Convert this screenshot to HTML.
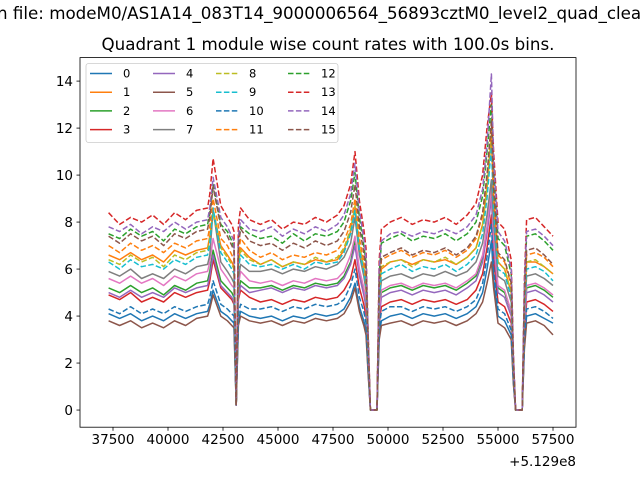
<!DOCTYPE html>
<html><head><meta charset="utf-8"><style>
body{margin:0;background:#fff;width:640px;height:480px;overflow:hidden}
svg{font-family:"DejaVu Sans","Liberation Sans",sans-serif}
</style></head><body>
<svg id="chart" width="640" height="480" viewBox="0 0 640 480">
<text x="-3" y="19" font-size="16.7">n file: modeM0/AS1A14_083T14_9000006564_56893cztM0_level2_quad_clean</text>
<text x="328" y="50" font-size="16.7" text-anchor="middle">Quadrant 1 module wise count rates with 100.0s bins.</text>
<g id="plot"></g>
</svg>
<script>
const times=[37300,37800,38300,38800,39300,39800,40300,40800,41300,41800,41900,42050,42400,42700,42900,43000,43100,43200,43300,43700,44200,44700,45200,45700,46200,46700,47200,47700,48000,48300,48500,48700,48900,49000,49100,49200,49500,49600,49700,50100,50600,51100,51600,52100,52600,53100,53600,54000,54300,54500,54700,54800,55000,55300,55600,55700,55800,56100,56200,56300,56700,57100,57500];
const s0=[4.1,3.9,4.1,3.8,4.0,3.8,4.1,3.9,4.1,4.2,4.5,5.1,4.2,4.0,3.8,3.7,0.2,3.8,4.2,4.0,3.9,4.0,3.8,4.0,3.9,4.1,4.0,4.1,4.3,4.8,5.4,4.4,3.8,3.4,1.6,0,0,3.2,3.8,4.0,4.1,3.9,4.1,4.0,4.1,3.9,4.1,4.4,5.0,6.0,7.2,5.6,4.0,3.8,3.2,1.2,0,0,2.8,4.0,4.1,3.9,3.7];
const s1=[6.6,6.4,6.7,6.4,6.6,6.3,6.8,6.6,6.8,6.9,7.4,8.5,7.0,6.6,6.3,6.1,0.2,6.3,6.9,6.5,6.2,6.4,6.1,6.3,6.2,6.4,6.3,6.4,6.8,7.6,8.6,6.9,6.0,5.4,2.5,0,0,5.0,6.0,6.3,6.4,6.2,6.4,6.3,6.4,6.2,6.5,6.9,7.9,9.4,11.6,8.8,6.3,6.0,5.0,1.9,0,0,4.4,6.3,6.3,6.1,5.8];
const s2=[5.2,5.0,5.3,5.0,5.2,4.9,5.3,5.1,5.4,5.5,5.9,6.8,5.5,5.2,5.0,4.8,0.2,5.0,5.5,5.2,5.2,5.3,5.1,5.3,5.2,5.4,5.3,5.4,5.7,6.3,7.2,5.8,5.0,4.5,2.1,0,0,4.2,5.0,5.2,5.3,5.1,5.3,5.2,5.3,5.1,5.4,5.7,6.5,7.7,9.3,7.2,5.2,5.0,4.2,1.6,0,0,3.6,5.2,5.3,5.1,4.8];
const s3=[4.9,4.7,5.0,4.6,4.8,4.6,5.0,4.8,5.0,5.1,5.5,6.4,5.2,4.9,4.7,4.5,0.2,4.7,5.1,4.8,4.6,4.7,4.5,4.7,4.6,4.8,4.7,4.8,5.1,5.6,6.4,5.2,4.5,4.0,1.9,0,0,3.7,4.4,4.6,4.7,4.5,4.7,4.6,4.7,4.5,4.7,5.1,5.8,6.9,8.3,6.4,4.6,4.4,3.7,1.4,0,0,3.2,4.6,4.7,4.5,4.2];
const s4=[5.0,4.8,5.1,4.8,5.0,4.8,5.2,5.0,5.2,5.3,5.7,6.6,5.3,5.0,4.8,4.6,0.2,4.8,5.3,5.0,5.1,5.2,5.0,5.2,5.1,5.3,5.2,5.3,5.6,6.2,7.0,5.7,4.9,4.4,2.1,0,0,4.0,4.8,5.0,5.1,4.9,5.1,5.0,5.1,4.9,5.2,5.5,6.3,7.5,9.0,7.0,5.0,4.8,4.0,1.5,0,0,3.5,5.0,5.1,4.9,4.6];
const s5=[3.8,3.6,3.8,3.5,3.7,3.5,3.8,3.6,3.9,4.0,4.3,4.9,4.0,3.8,3.6,3.5,0.2,3.6,4.0,3.8,3.7,3.8,3.6,3.8,3.7,3.9,3.8,3.9,4.1,4.6,5.2,4.2,3.6,3.2,1.5,0,0,3.0,3.6,3.7,3.8,3.6,3.8,3.7,3.8,3.6,3.8,4.1,4.6,5.4,6.3,5.2,3.7,3.5,3.0,1.1,0,0,2.6,3.7,3.8,3.6,3.2];
const s6=[5.6,5.4,5.7,5.4,5.6,5.3,5.7,5.5,5.8,5.9,6.3,7.3,6.0,5.6,5.3,5.2,0.2,5.3,5.9,5.5,5.4,5.5,5.3,5.5,5.4,5.6,5.5,5.6,5.9,6.6,7.4,6.0,5.2,4.7,2.2,0,0,4.3,5.1,5.3,5.4,5.2,5.4,5.3,5.4,5.2,5.5,5.8,6.6,7.8,9.5,7.4,5.3,5.1,4.2,1.6,0,0,3.7,5.3,5.4,5.2,4.9];
const s7=[5.9,5.7,6.0,5.6,5.8,5.6,6.0,5.8,6.1,6.2,6.6,8.5,6.3,5.9,5.6,5.4,0.2,5.6,6.2,5.9,5.9,6.0,5.8,6.0,5.9,6.1,6.0,6.2,6.5,7.1,8.2,6.6,5.7,5.1,2.4,0,0,4.6,5.5,5.7,5.8,5.6,5.8,5.7,5.9,5.7,5.9,6.3,7.1,8.3,9.8,8.0,5.7,5.5,4.6,1.7,0,0,4.0,5.7,5.8,5.6,5.3];
const s8=[6.4,6.2,6.6,6.3,6.5,6.1,6.6,6.4,6.7,6.8,7.3,8.4,6.9,6.5,6.2,6.0,0.2,6.2,6.8,6.4,6.2,6.4,6.1,6.3,6.2,6.5,6.3,6.5,6.9,7.7,8.7,7.0,6.1,5.4,2.6,0,0,5.0,6.1,6.3,6.4,6.1,6.4,6.3,6.5,6.2,6.5,6.9,7.9,9.5,11.8,8.9,6.3,6.0,5.0,1.9,0,0,4.4,6.3,6.4,6.1,5.8];
const s9=[6.3,6.0,6.4,6.1,6.2,6.0,6.4,6.2,6.5,6.6,7.1,8.6,6.7,6.3,6.0,5.8,0.2,6.0,6.6,6.2,6.1,6.2,6.0,6.2,6.0,6.3,6.2,6.3,6.7,7.5,8.5,6.8,5.9,5.3,2.5,0,0,4.8,5.8,6.0,6.2,5.9,6.1,6.0,6.2,5.9,6.2,6.6,7.5,9.0,11.2,8.5,6.0,5.8,4.8,1.8,0,0,4.2,6.0,6.1,5.9,5.5];
const s10=[4.3,4.1,4.4,4.1,4.3,4.1,4.4,4.2,4.4,4.5,4.8,5.5,4.5,4.3,4.1,4.0,0.2,4.1,4.5,4.3,4.3,4.4,4.2,4.4,4.3,4.5,4.4,4.5,4.7,5.3,6.0,4.8,4.2,3.7,1.8,0,0,3.5,4.2,4.4,4.4,4.2,4.4,4.3,4.4,4.2,4.4,4.7,5.4,6.5,7.9,6.0,4.3,4.1,3.4,1.3,0,0,3.0,4.3,4.4,4.2,3.9];
const s11=[7.0,6.7,7.1,6.8,7.0,6.7,7.1,6.9,7.2,7.3,7.8,9.0,7.3,7.0,6.6,6.4,0.2,6.6,7.3,6.8,6.5,6.7,6.4,6.6,6.5,6.7,6.6,6.8,7.2,7.9,9.0,7.3,6.3,5.6,2.6,0,0,5.3,6.4,6.6,6.8,6.5,6.7,6.6,6.8,6.5,6.8,7.3,8.3,9.9,12.2,9.2,6.6,6.3,5.3,2.0,0,0,4.6,6.6,6.7,6.5,6.1];
const s12=[7.5,7.3,7.7,7.4,7.6,7.2,7.7,7.5,7.8,7.9,8.4,9.6,7.9,7.6,7.2,6.9,0.2,7.2,7.8,7.5,7.3,7.4,7.1,7.5,7.2,7.5,7.4,7.6,8.0,8.9,10.1,8.2,7.0,6.3,3.0,0,0,5.8,7.1,7.3,7.5,7.2,7.4,7.3,7.5,7.2,7.5,8.0,9.1,11.0,13.0,10.2,7.3,7.0,5.8,2.2,0,0,5.1,7.4,7.5,7.2,6.8];
const s13=[8.4,7.9,8.2,8.0,8.3,7.9,8.4,8.1,8.5,8.6,9.2,10.7,8.7,8.2,7.9,7.6,0.3,7.9,8.6,8.1,7.9,8.1,7.7,8.0,7.9,8.2,8.0,8.3,8.7,9.6,11.0,8.9,7.7,6.9,3.2,0,0,6.4,7.7,8.0,8.2,7.9,8.1,8.0,8.2,7.9,8.3,8.8,10.0,12.0,13.5,11.0,8.0,7.7,6.4,2.4,0,0,5.6,8.1,8.2,7.8,7.4];
const s14=[7.8,7.6,7.9,7.5,7.8,7.6,8.0,7.7,8.0,8.1,8.6,9.9,8.2,7.8,7.4,7.2,0.2,7.4,8.1,7.7,7.6,7.8,7.4,7.7,7.5,7.8,7.6,7.9,8.3,9.2,10.5,8.5,7.3,6.5,3.1,0,0,6.0,7.2,7.5,7.6,7.4,7.6,7.5,7.7,7.5,7.8,8.3,9.4,11.3,14.3,10.6,7.6,7.2,6.0,2.3,0,0,5.3,7.6,7.7,7.4,7.0];
const s15=[7.4,7.1,7.5,7.2,7.4,7.0,7.5,7.3,7.6,7.7,8.2,9.5,7.8,7.4,7.0,6.8,0.2,7.0,7.7,7.2,7.0,7.1,6.8,7.1,6.9,7.2,7.0,7.2,7.6,8.4,9.6,7.8,6.7,6.0,2.8,0,0,5.4,6.5,6.7,6.9,6.6,6.8,6.7,6.9,6.6,6.9,7.4,8.4,10.0,12.3,9.4,6.7,6.4,5.4,2.0,0,0,4.7,6.8,6.9,6.6,6.2];
const seriesLabels=["0","1","2","3","4","5","6","7","8","9","10","11","12","13","14","15"];
const xTicks=[37500,40000,42500,45000,47500,50000,52500,55000,57500];
const yTicks=[0,2,4,6,8,10,12,14];

const series=[s0,s1,s2,s3,s4,s5,s6,s7,s8,s9,s10,s11,s12,s13,s14,s15];
const colors=["#1f77b4","#ff7f0e","#2ca02c","#d62728","#9467bd","#8c564b","#e377c2","#7f7f7f","#bcbd22","#17becf"];
const L=80,R=576,T=57.6,B=427.2;
const xMin=36000,xMax=58545,yMin=-0.73,yMax=15.0;
const xs=v=>L+(v-xMin)/(xMax-xMin)*(R-L);
const ys=v=>B-(v-yMin)/(yMax-yMin)*(B-T);
const NS="http://www.w3.org/2000/svg";
const g=document.getElementById('plot');
function mk(tag,attrs,parent){const e=document.createElementNS(NS,tag);for(const k in attrs)e.setAttribute(k,attrs[k]);(parent||g).appendChild(e);return e;}
mk('rect',{x:L,y:T,width:R-L,height:B-T,fill:'#fff'});
series.forEach((d,i)=>{
  const p=mk('polyline',{points:d.map((v,j)=>xs(times[j]).toFixed(1)+','+ys(v).toFixed(1)).join(' '),fill:'none',stroke:colors[i%10],'stroke-width':1.5,'stroke-linejoin':'round'});
  if(i>=8)p.setAttribute('stroke-dasharray','5.5,2.4');
  
  
});
const frame=mk('rect',{x:L,y:T,width:R-L,height:B-T,fill:'none',stroke:'#000','stroke-width':0.8});


xTicks.forEach(t=>{
  const x=xs(t);
  mk('line',{x1:x,x2:x,y1:B,y2:B+3.5,stroke:'#000','stroke-width':0.8});
  const tx=mk('text',{x:x,y:B+17,'font-size':13.5,'text-anchor':'middle'});
  tx.textContent=t;
  
  
});
yTicks.forEach(t=>{
  const y=ys(t);
  mk('line',{x1:L-3.5,x2:L,y1:y,y2:y,stroke:'#000','stroke-width':0.8});
  const tx=mk('text',{x:L-7,y:y+5,'font-size':13.5,'text-anchor':'end'});
  tx.textContent=t;
  
  
});
const off=mk('text',{x:576,y:466,'font-size':13.5,'text-anchor':'end'});
off.textContent='+5.129e8';


const lg=mk('g',{});


mk('rect',{x:86,y:63.5,width:252,height:79,rx:2.5,fill:'#fff','fill-opacity':0.8,stroke:'#ccc','stroke-width':0.8},lg);
const colX=[90,153,216,288];
seriesLabels.forEach((lab,i)=>{
  const c=Math.floor(i/4),r=i%4;
  const y=73.5+r*18.7,x=colX[c];
  const ln=mk('line',{x1:x,x2:x+22,y1:y,y2:y,stroke:colors[i%10],'stroke-width':1.5},lg);
  if(i>=8)ln.setAttribute('stroke-dasharray','5.5,2.4');
  const tx=mk('text',{x:x+33,y:y+4,'font-size':11.5},lg);
  tx.textContent=lab;
  
  
});
</script>
</body></html>
